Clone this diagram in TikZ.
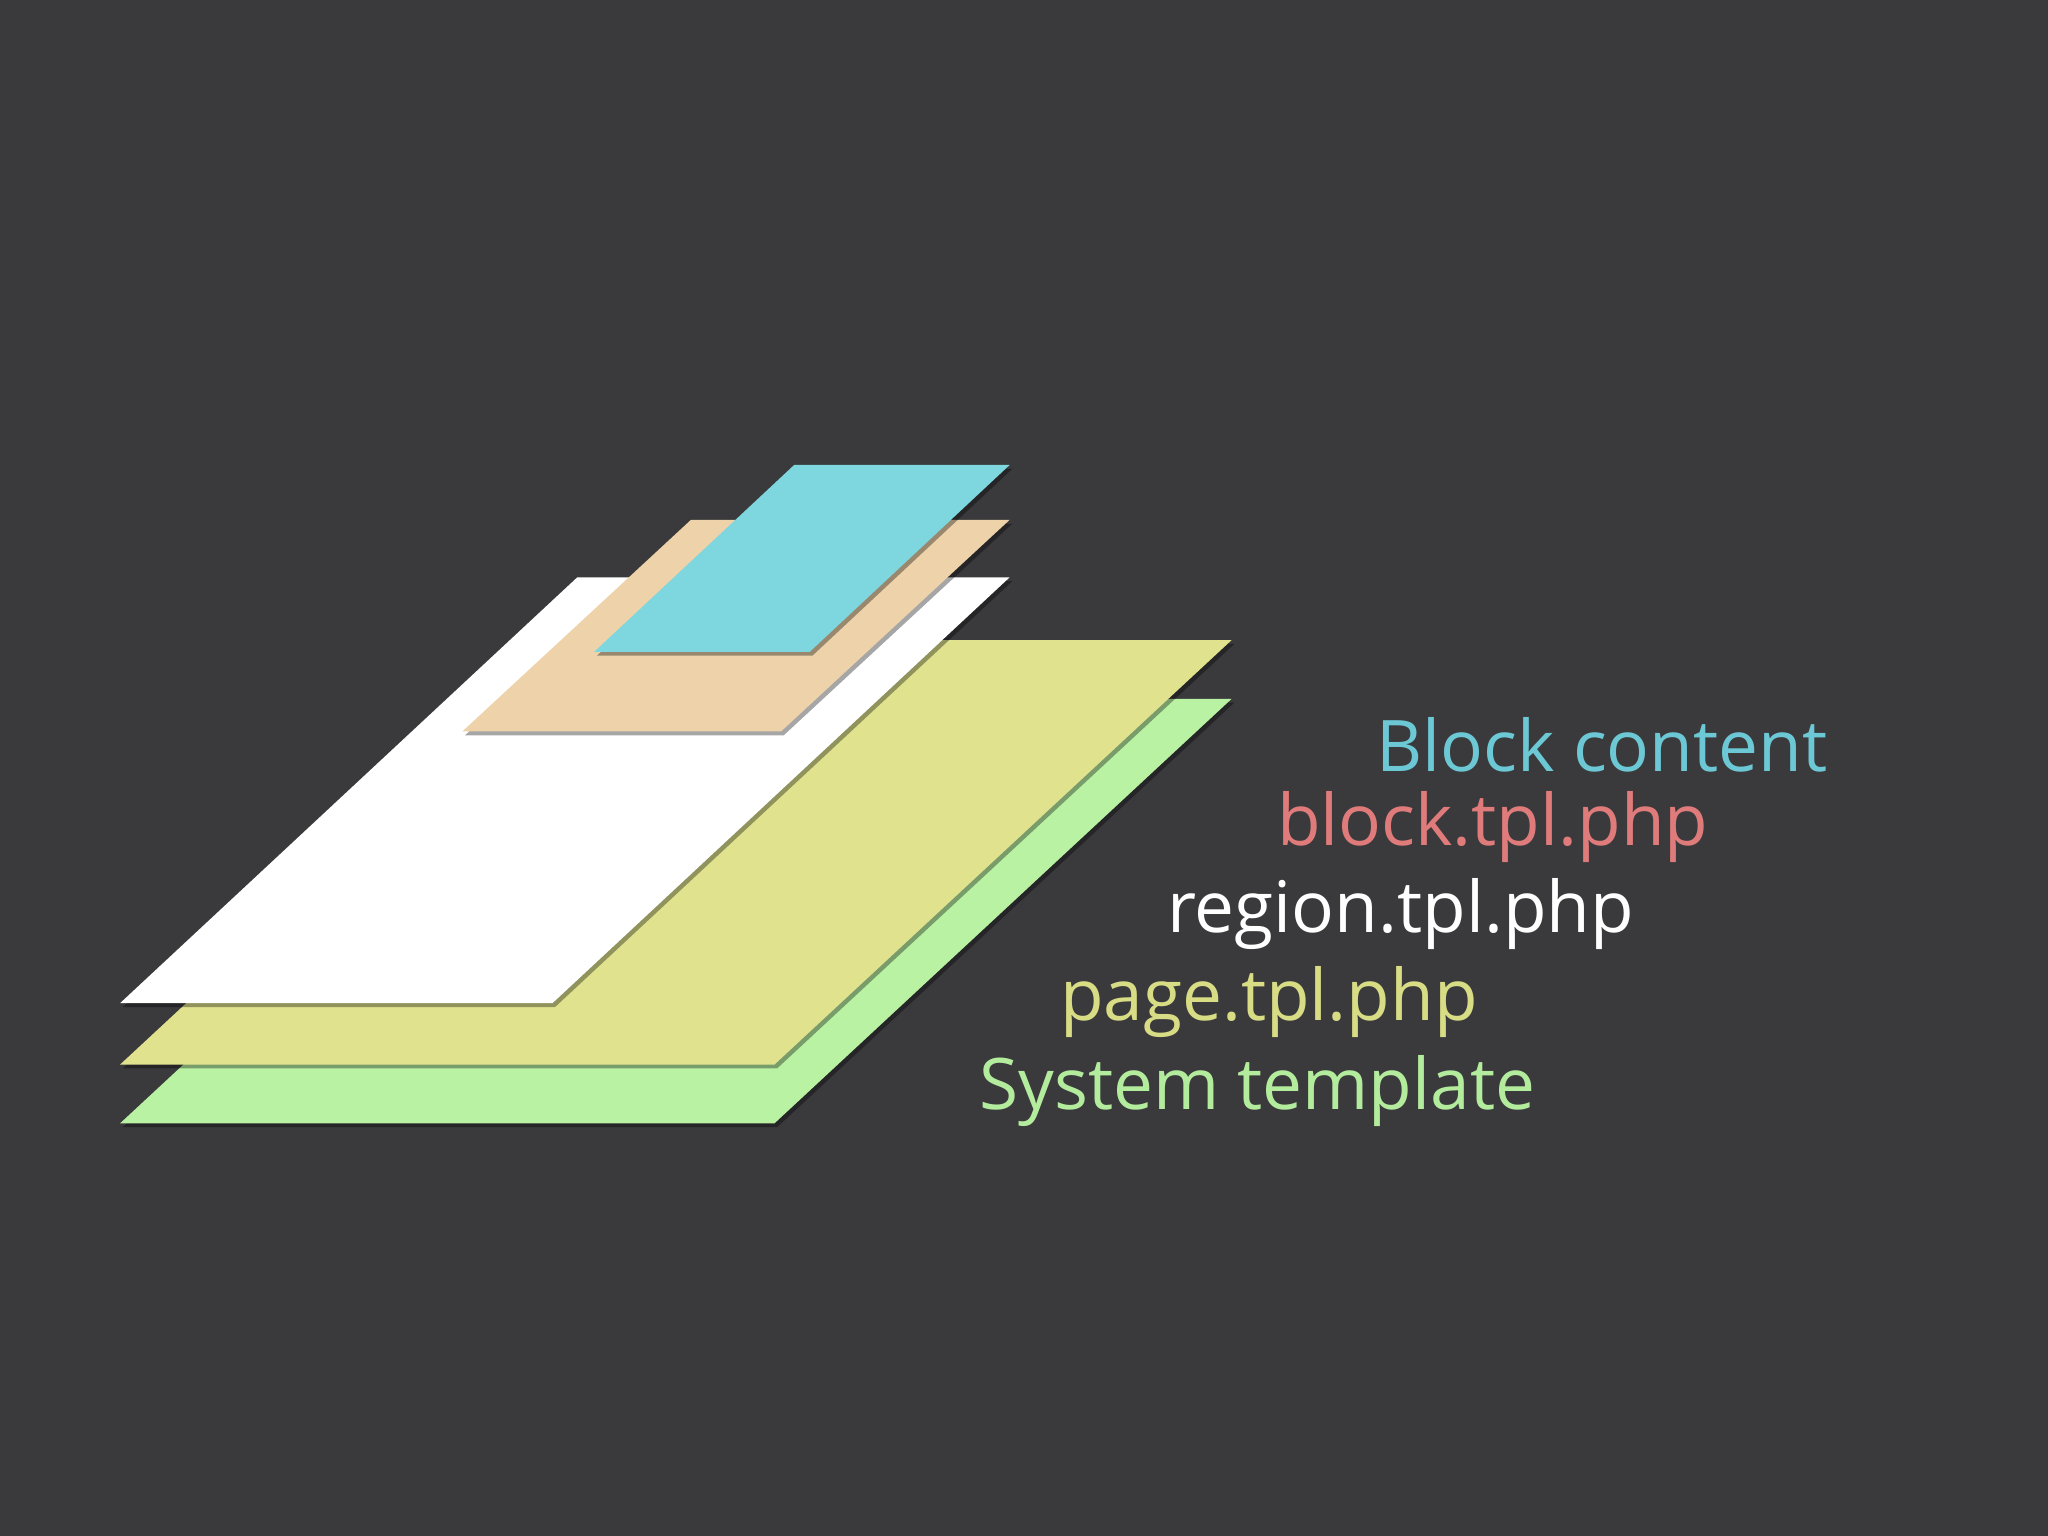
\documentclass[tikz,border=0pt]{standalone}
\usepackage{fontspec}
\setmainfont{Open Sans}
\begin{document}
\begin{tikzpicture}[x=0.1mm,y=-0.1mm,
  sheet/.style={draw=none},
  shade/.style={fill=black,opacity=0.35},
  lbl/.style={anchor=west,inner sep=0pt,font=\fontsize{15.5}{18}\selectfont}]
\definecolor{bg}{HTML}{3A3A3C}
\definecolor{cgreen}{HTML}{BAF2A4}
\definecolor{cyellow}{HTML}{E0E28E}
\definecolor{cpeach}{HTML}{EDD2AA}
\definecolor{ccyan}{HTML}{7ED6DE}
\definecolor{tcyan}{HTML}{6CC8D4}
\definecolor{tred}{HTML}{E07B7B}
\definecolor{tyel}{HTML}{D8DC84}
\definecolor{tgrn}{HTML}{B4EC9E}
\fill[bg] (0,0) rectangle (1568,1176);
\useasboundingbox (0,0) rectangle (1568,1176);
% green
\fill[shade] (94,863)--(595,863)--(945,538)--(444,538)--cycle;
\fill[cgreen] (92,860)--(593,860)--(943,535)--(442,535)--cycle;
% yellow
\fill[shade] (94,818)--(595,818)--(945,493)--(444,493)--cycle;
\fill[cyellow] (92,815)--(593,815)--(943,490)--(442,490)--cycle;
% white
\fill[shade] (94,771)--(425,771)--(775,445)--(444,445)--cycle;
\fill[white] (92,768)--(423,768)--(773,442)--(442,442)--cycle;
% peach
\fill[shade] (356,563)--(600,563)--(775,401)--(531,401)--cycle;
\fill[cpeach] (354,560)--(598,560)--(773,398)--(529,398)--cycle;
% cyan
\fill[shade] (457,502)--(622,502)--(775,359)--(610,359)--cycle;
\fill[ccyan] (455,499)--(620,499)--(773,356)--(608,356)--cycle;
% labels
\node[lbl,text=tcyan] (t1) at (1053,570) {Block content};
\node[lbl,text=tred] (t2) at (977,633) {block.tpl.php};
\node[lbl,text=white] (t3) at (893,700) {region.tpl.php};
\node[lbl,text=tyel] (t4) at (811,767) {page.tpl.php};
\node[lbl,text=tgrn] (t5) at (749,835) {System template};
\end{tikzpicture}
\end{document}
